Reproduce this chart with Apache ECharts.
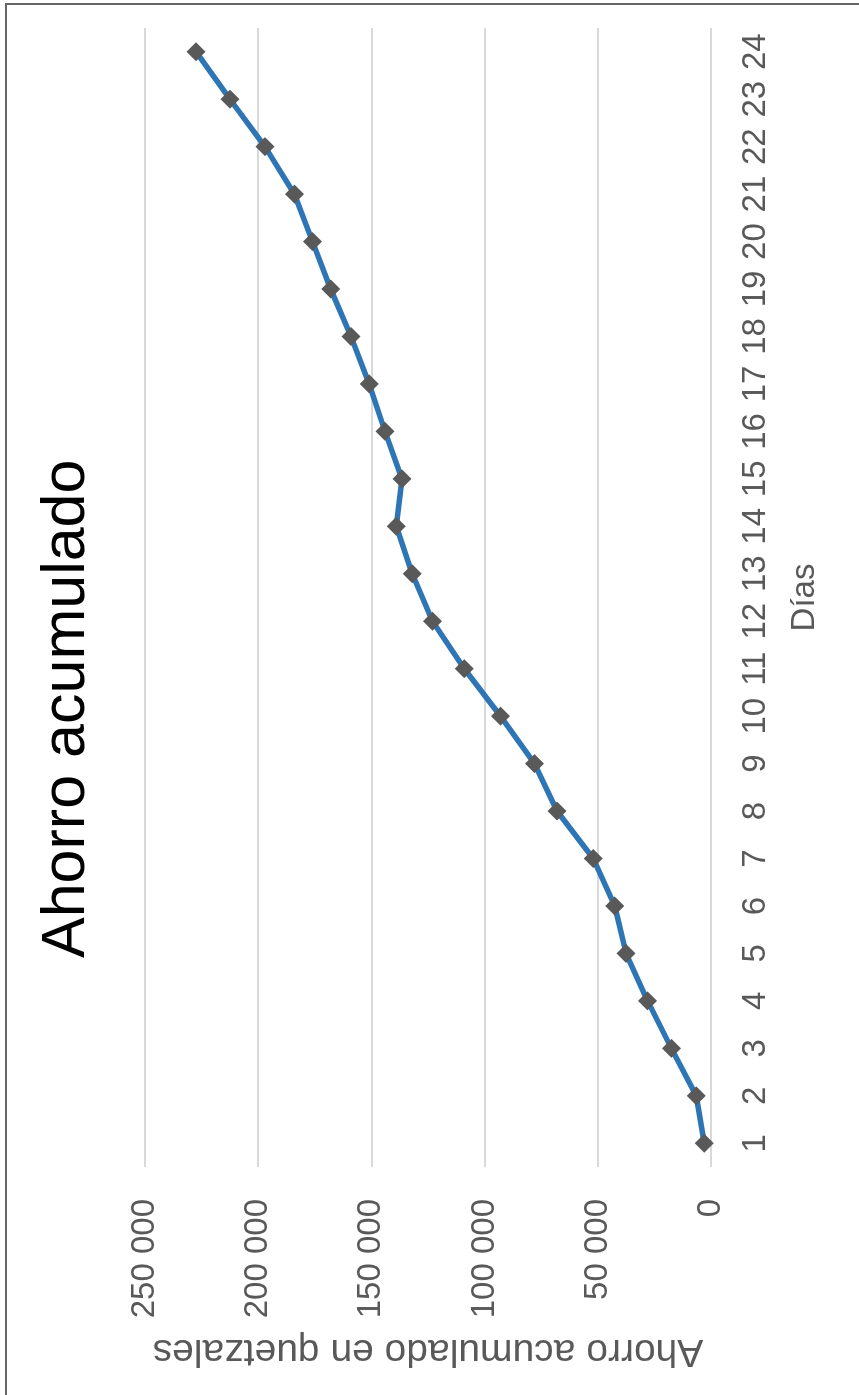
<!DOCTYPE html>
<html>
<head>
<meta charset="utf-8">
<script src="https://cdn.jsdelivr.net/npm/echarts@6/dist/echarts.min.js"></script>
<style>
  html, body { margin: 0; padding: 0; background: #ffffff; }
  body { width: 859px; height: 1395px; position: relative; overflow: hidden; }
  /* el grafico se dibuja horizontal y se gira -90 grados */
  #chart {
    position: absolute; left: 0; top: 0;
    width: 1395px; height: 859px;
    transform-origin: 0 0;
    transform: translate(0, 1395px) rotate(-90deg);
  }
  .frame {
    position: absolute; left: 5px; top: 3px;
    width: 900px; height: 1450px;
    border-left: 2px solid #666666;
    border-top: 2px solid #666666;
    pointer-events: none;
  }
</style>
</head>
<body>
<div id="chart"></div>
<div class="frame"></div>
<script>
  const FONT = 'Liberation Sans'
  const TEXT_COLOR = '#595959'

  // datos
  const dias = ['1', '2', '3', '4', '5', '6', '7', '8', '9', '10', '11', '12',
    '13', '14', '15', '16', '17', '18', '19', '20', '21', '22', '23', '24']
  const ahorro = [3000, 6500, 17500, 28000, 37500, 42500, 52000, 68000, 78000, 93000, 109000, 123000,
    132000, 139000, 136500, 144000, 151000, 159000, 168000, 176000, 184000, 197000, 212500, 227500]
  const ejeY = [0, 50000, 100000, 150000, 200000, 250000]

  let myChart = echarts.init(document.getElementById('chart'))

  let option = {
    animation: false,
    textStyle: { fontFamily: FONT },
    title: {
      text: 'Ahorro acumulado',
      left: 437,
      top: 37,
      padding: 0,
      textStyle: { fontFamily: FONT, fontSize: 61, fontWeight: 'normal', color: '#000000' }
    },
    grid: { left: 228, right: 28, top: 145, bottom: 148, containLabel: false },
    xAxis: {
      type: 'category',
      data: dias,
      boundaryGap: true,
      name: 'Días',
      nameLocation: 'middle',
      nameGap: 77,
      nameTextStyle: { fontFamily: FONT, fontSize: 33, color: TEXT_COLOR },
      axisLine: { show: false },
      axisTick: { show: false },
      axisLabel: { fontFamily: FONT, fontSize: 33, color: TEXT_COLOR, margin: 28, interval: 0 }
    },
    yAxis: {
      type: 'value',
      min: ejeY[0],
      max: ejeY[ejeY.length - 1],
      interval: ejeY[1] - ejeY[0],
      name: 'Ahorro acumulado en quetzales',
      nameLocation: 'middle',
      nameRotate: 90,
      nameGap: 164,
      nameTextStyle: { fontFamily: FONT, fontSize: 39, color: TEXT_COLOR },
      axisLine: { show: false },
      axisTick: { show: false },
      splitLine: { lineStyle: { color: '#d9d9d9', width: 2 } },
      axisLabel: {
        fontFamily: FONT, fontSize: 33, color: TEXT_COLOR, margin: 32,
        formatter: function (v) {
          return String(v).replace(/\B(?=(\d{3})+(?!\d))/g, ' ')
        }
      }
    },
    series: [{
      name: 'Ahorro acumulado',
      type: 'line',
      data: ahorro,
      symbol: 'diamond',
      symbolSize: 19,
      showSymbol: true,
      lineStyle: { color: '#2e75b6', width: 5.5 },
      itemStyle: { color: '#595959' }
    }]
  }

  myChart.setOption(option)
</script>
</body>
</html>
